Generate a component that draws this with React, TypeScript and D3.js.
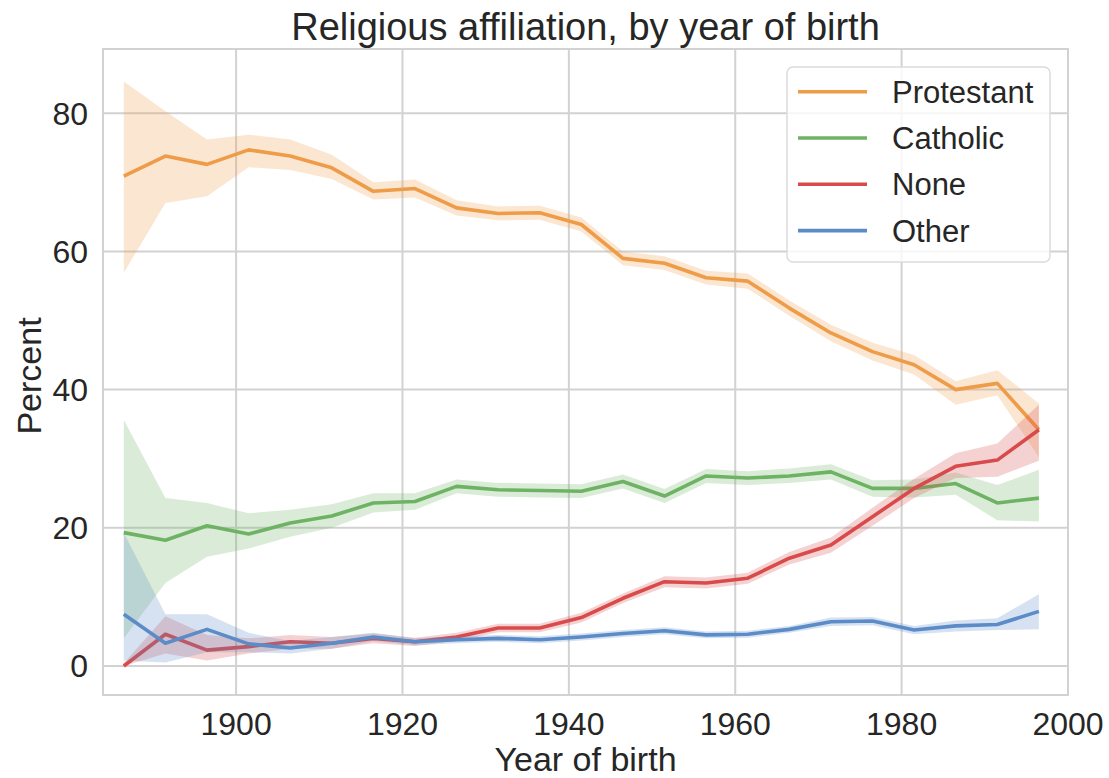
import React from "react";
import * as d3 from "d3";

const YEARS = [1886.5, 1891.5, 1896.5, 1901.5, 1906.5, 1911.5, 1916.5, 1921.5, 1926.5, 1931.5, 1936.5, 1941.5, 1946.5, 1951.5, 1956.5, 1961.5, 1966.5, 1971.5, 1976.5, 1981.5, 1986.5, 1991.5, 1996.5];

const PROTESTANT = [70.9, 73.8, 72.6, 74.7, 73.8, 72.1, 68.7, 69.1, 66.3, 65.5, 65.6, 63.9, 59.0, 58.3, 56.2, 55.7, 51.8, 48.2, 45.5, 43.6, 40.0, 40.9, 34.2];
const PROTESTANT_LO = [56.9, 67.0, 68.0, 72.2, 71.8, 70.5, 67.5, 67.8, 65.2, 64.5, 64.6, 62.9, 58.0, 57.3, 55.2, 54.6, 50.7, 47.0, 44.2, 42.2, 37.8, 39.2, 30.2];
const PROTESTANT_HI = [84.6, 80.3, 76.2, 76.9, 76.2, 74.0, 70.0, 70.4, 67.4, 66.5, 66.6, 64.9, 60.0, 59.3, 57.2, 56.8, 52.9, 49.4, 46.8, 45.0, 41.2, 42.8, 38.0];

const CATHOLIC = [19.3, 18.2, 20.3, 19.1, 20.7, 21.7, 23.6, 23.8, 26.0, 25.5, 25.4, 25.3, 26.7, 24.6, 27.5, 27.2, 27.5, 28.1, 25.7, 25.7, 26.4, 23.6, 24.3];
const CATHOLIC_LO = [4.0, 12.0, 15.8, 17.0, 18.7, 20.0, 22.2, 22.6, 25.0, 24.5, 24.4, 24.3, 25.7, 23.6, 26.5, 26.2, 26.5, 27.0, 24.5, 24.4, 24.8, 21.1, 20.9];
const CATHOLIC_HI = [35.6, 24.3, 23.6, 22.1, 22.6, 23.4, 25.0, 25.0, 27.0, 26.5, 26.4, 26.3, 27.7, 25.6, 28.5, 28.2, 28.6, 29.2, 26.9, 27.0, 28.0, 26.2, 28.4];

const NONE = [0.0, 4.6, 2.3, 2.8, 3.5, 3.3, 4.0, 3.5, 4.2, 5.5, 5.5, 7.0, 9.8, 12.2, 12.0, 12.7, 15.6, 17.5, 21.6, 25.7, 28.9, 29.8, 34.2];
const NONE_LO = [0.0, 1.8, 0.8, 1.8, 2.5, 2.5, 3.3, 2.9, 3.6, 4.9, 4.9, 6.3, 9.1, 11.4, 11.2, 11.9, 14.7, 16.4, 20.3, 24.3, 27.2, 27.4, 29.7];
const NONE_HI = [0.4, 7.2, 4.5, 4.0, 4.5, 4.2, 4.7, 4.1, 4.8, 6.1, 6.1, 7.7, 10.5, 13.0, 12.8, 13.5, 16.5, 18.6, 22.9, 27.1, 30.8, 32.2, 37.8];

const OTHER = [7.5, 3.3, 5.3, 3.2, 2.6, 3.3, 4.2, 3.5, 3.8, 4.0, 3.8, 4.2, 4.7, 5.1, 4.5, 4.6, 5.3, 6.4, 6.5, 5.2, 5.8, 6.0, 7.9];
const OTHER_LO = [0.8, 0.5, 2.0, 2.0, 1.8, 2.5, 3.6, 3.0, 3.3, 3.5, 3.3, 3.7, 4.2, 4.6, 4.0, 4.1, 4.8, 5.8, 5.9, 4.6, 5.0, 5.2, 5.3];
const OTHER_HI = [19.3, 7.5, 7.5, 4.8, 3.6, 4.2, 4.8, 4.0, 4.3, 4.5, 4.3, 4.7, 5.2, 5.6, 5.0, 5.1, 5.8, 7.0, 7.1, 5.8, 6.6, 6.9, 10.4];

const SERIES_NAMES = ["Protestant", "Catholic", "None", "Other"];
const SERIES_COLORS = ["#EE9C48", "#6DB363", "#D94A4B", "#5B8CC7"];
const X_TICKS = [1900, 1920, 1940, 1960, 1980, 2000];
const Y_TICKS = [0, 20, 40, 60, 80];

const FONT = "'Liberation Sans', Arial, sans-serif";
const TEXT = "#262626";
const GRID = "#d2d2d2";

export default function App() {
  const W = 1109, H = 778;
  const left = 103, right = 1068, top = 49, bottom = 695;
  const x = d3.scaleLinear().domain([1884, 2000]).range([left, right]);
  const y = d3.scaleLinear().domain([-4.2, 89.3]).range([bottom, top]);

  const series = [
    { mean: PROTESTANT, lo: PROTESTANT_LO, hi: PROTESTANT_HI },
    { mean: CATHOLIC, lo: CATHOLIC_LO, hi: CATHOLIC_HI },
    { mean: NONE, lo: NONE_LO, hi: NONE_HI },
    { mean: OTHER, lo: OTHER_LO, hi: OTHER_HI },
  ];

  const line = d3.line<number>().x((_, i) => x(YEARS[i])).y((d) => y(d));

  return (
    <svg width={W} height={H} style={{ position: "absolute", left: 0, top: 0, background: "#fff" }}>
      <rect x={0} y={0} width={W} height={H} fill="#fff" />
      <defs>
        <clipPath id="plot">
          <rect x={left} y={top} width={right - left} height={bottom - top} />
        </clipPath>
      </defs>
      {/* grid */}
      {X_TICKS.map((t) => (
        <line key={"gx" + t} x1={x(t)} x2={x(t)} y1={top} y2={bottom} stroke={GRID} strokeWidth={2} />
      ))}
      {Y_TICKS.map((t) => (
        <line key={"gy" + t} x1={left} x2={right} y1={y(t)} y2={y(t)} stroke={GRID} strokeWidth={2} />
      ))}
      {/* series */}
      <g clipPath="url(#plot)">
        {series.map((s, k) => {
          const area = d3
            .area<number>()
            .x((_, i) => x(YEARS[i]))
            .y0((_, i) => y(s.lo[i]))
            .y1((_, i) => y(s.hi[i]));
          return (
            <g key={SERIES_NAMES[k]}>
              <path d={area(s.mean) || ""} fill={SERIES_COLORS[k]} fillOpacity={0.25} stroke="none" />
              <path d={line(s.mean) || ""} fill="none" stroke={SERIES_COLORS[k]} strokeWidth={3.6} strokeLinejoin="round" />
            </g>
          );
        })}
      </g>
      {/* frame */}
      <rect x={left} y={top} width={right - left} height={bottom - top} fill="none" stroke={GRID} strokeWidth={2} />
      {/* ticks */}
      {X_TICKS.map((t) => (
        <text key={"tx" + t} x={x(t)} y={735} textAnchor="middle" fontFamily={FONT} fontSize={32} fill={TEXT}>
          {t}
        </text>
      ))}
      {Y_TICKS.map((t) => (
        <text key={"ty" + t} x={88} y={y(t) + 11.5} textAnchor="end" fontFamily={FONT} fontSize={32} fill={TEXT}>
          {t}
        </text>
      ))}
      {/* labels */}
      <text x={(left + right) / 2} y={40} textAnchor="middle" fontFamily={FONT} fontSize={38} fill={TEXT}>
        Religious affiliation, by year of birth
      </text>
      <text x={(left + right) / 2} y={771} textAnchor="middle" fontFamily={FONT} fontSize={34} fill={TEXT}>
        Year of birth
      </text>
      <text transform={`translate(41, ${(top + bottom) / 2 + 4}) rotate(-90)`} textAnchor="middle" fontFamily={FONT} fontSize={34} fill={TEXT}>
        Percent
      </text>
      {/* legend */}
      <g>
        <rect x={787} y={67} width={263} height={195} rx={6} fill="#fff" fillOpacity={0.8} stroke="#dcdcdc" strokeWidth={1.5} />
        {SERIES_NAMES.map((name, k) => {
          const ly = 91.7 + k * 46.3;
          return (
            <g key={"lg" + name}>
              <line x1={798} x2={867} y1={ly} y2={ly} stroke={SERIES_COLORS[k]} strokeWidth={3.6} />
              <text x={892} y={ly + 11} fontFamily={FONT} fontSize={31} fill={TEXT}>
                {name}
              </text>
            </g>
          );
        })}
      </g>
    </svg>
  );
}
